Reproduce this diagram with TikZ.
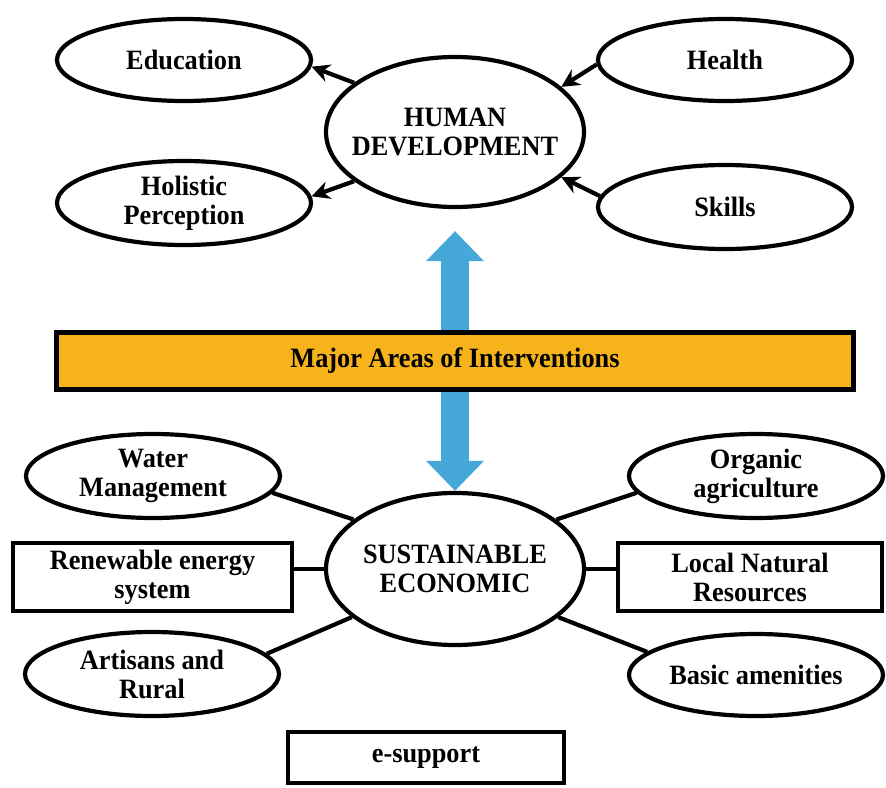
\documentclass[tikz,border=0pt]{standalone}
\usepackage{fontspec}
\setmainfont{Liberation Serif}[FakeStretch=0.94]
\usetikzlibrary{shapes.geometric,arrows.meta}
\definecolor{orng}{HTML}{F6B31B}
\definecolor{skyb}{HTML}{45A8D9}
\begin{document}
\begin{tikzpicture}[x=1pt,y=-1pt,
  lbl/.style={font=\fontsize{28}{29}\selectfont\bfseries, align=center, inner sep=0pt},
  oval/.style={draw, ellipse, line width=4.2pt, inner sep=0pt, minimum width=254pt, minimum height=82pt},
  bigoval/.style={draw, ellipse, line width=4.2pt, inner sep=0pt, minimum width=258pt, minimum height=150pt},
  box/.style={lbl, draw, rectangle, line width=4.2pt},
  conn/.style={line width=4.2pt},
  harr/.style={line width=4.2pt, -{Stealth[length=18pt,width=18pt]}},
  barr/.style={skyb, line width=28pt, {Triangle[width=56pt,length=30pt]}-{Triangle[width=56pt,length=30pt]}}
]
\useasboundingbox (0,0) rectangle (886,787);

% top part
\node[bigoval, label={[lbl]center:HUMAN\\DEVELOPMENT}] (hd) at (455,132) {};
\node[oval, label={[lbl]center:Education}] (edu) at (184,60) {};
\node[oval, label={[lbl]center:Health}] (health) at (725,60) {};
\node[oval, minimum height=84pt, label={[lbl]center:Holistic\\Perception}] (holi) at (184,203) {};
\node[oval, minimum height=84pt, label={[lbl]center:Skills}] (skills) at (725,207) {};

\draw[harr] (hd.154.6) -- (edu.-3);
\draw[harr] (health.182) -- (hd.23);
\draw[harr] (hd.206) -- (holi.3);
\draw[harr] (skills.175) -- (hd.-23);

% bottom part
\node[bigoval, minimum height=152pt, label={[lbl]center:SUSTAINABLE\\ECONOMIC}] (se) at (455,569) {};

% central double arrow and banner
\draw[barr, shorten <=22pt] (hd.south) -- (se.north);
\node[lbl, draw, fill=orng, line width=5pt, minimum width=797pt, minimum height=57pt] (mai) at (455,361) {Major Areas of Interventions};

\node[oval, minimum height=84pt, label={[lbl]center:Water\\Management}] (water) at (153,476) {};
\node[oval, minimum height=84pt, label={[lbl]center:Organic\\agriculture}] (organic) at (756,476) {};
\node[box, minimum width=279pt, minimum height=68pt] (ren) at (152.5,577) {Renewable energy\\system};
\node[box, minimum width=264pt, minimum height=68pt] (local) at (750,577) {Local Natural\\Resources};
\node[oval, minimum height=84pt, label={[lbl]center:Artisans and\\Rural}] (art) at (152,674) {};
\node[oval, minimum height=82pt, label={[lbl]center:Basic amenities}] (basic) at (756,675) {};
\node[box, minimum width=276pt, minimum height=51pt] (esup) at (426,757.5) {e-support};

\draw[conn] (water.-8) -- (se.154);
\draw[conn] (organic.188) -- (se.26);
\draw[conn] (se.west) -- (se.west -| ren.east);
\draw[conn] (se.east) -- (se.east -| local.west);
\draw[conn] (art.10) -- (se.205);
\draw[conn] (basic.168) -- (se.335);
\end{tikzpicture}
\end{document}
